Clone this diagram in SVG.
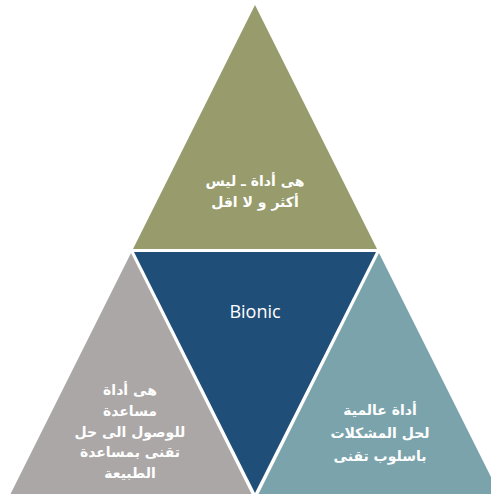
<svg xmlns="http://www.w3.org/2000/svg" width="491" height="494" viewBox="0 0 491 494">
<style>
.ar{font-family:"DejaVu Sans","Noto Sans",sans-serif;font-weight:bold;font-size:14px;fill:#fff;text-anchor:middle}
.en{font-family:"Open Sans","Liberation Sans",sans-serif;font-size:18px;fill:#fff;text-anchor:middle}
</style>
<rect width="491" height="494" fill="#fff"/>
<g id="top">
<polygon points="255,5 133,249 377,249" fill="#989B6B"/>
<text class="ar" direction="rtl" x="255" y="186">هى أداة ـ ليس</text>
<text class="ar" direction="rtl" x="255" y="207">أكثر و لا اقل</text>
</g>
<g id="center">
<polygon points="134,252 376,252 255,493" fill="#1F4E79"/>
<text class="en" x="255" y="318">Bionic</text>
</g>
<g id="left">
<polygon points="131,253 9,497 253,497" fill="#AAA7A6"/>
<text class="ar" direction="rtl" x="130" y="395">هى أداة</text>
<text class="ar" direction="rtl" x="130" y="416">مساعدة</text>
<text class="ar" direction="rtl" x="130" y="437">للوصول الى حل</text>
<text class="ar" direction="rtl" x="130" y="457">تقنى بمساعدة</text>
<text class="ar" direction="rtl" x="130" y="478">الطبيعة</text>
</g>
<g id="right">
<polygon points="379,253 257,497 501,497" fill="#7AA3AC"/>
<text class="ar" direction="rtl" x="380" y="415">أداة عالمية</text>
<text class="ar" direction="rtl" x="380" y="438">لحل المشكلات</text>
<text class="ar" direction="rtl" x="380" y="461">باسلوب تقنى</text>
</g>
<g id="connectors"/>
</svg>
